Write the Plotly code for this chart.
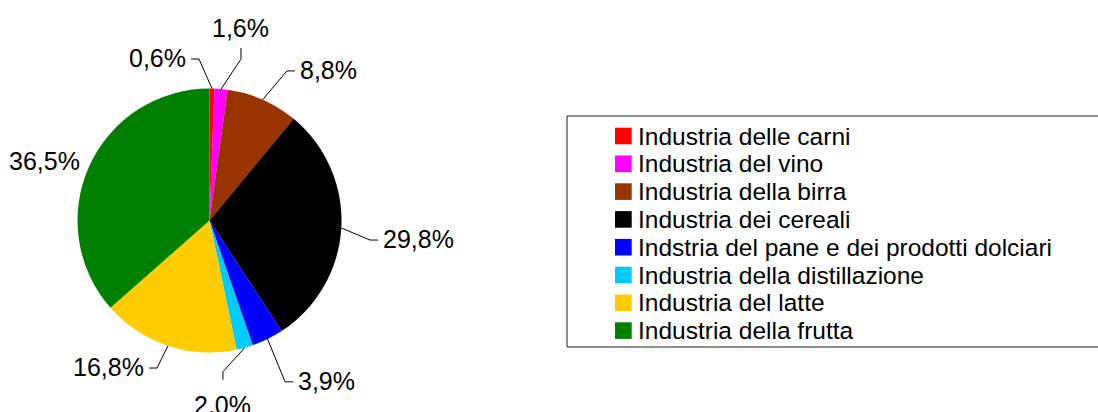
import numpy as np
import plotly.graph_objects as go

# ---------------------------------------------------------------------------
# Data
# ---------------------------------------------------------------------------
categories = [
    "Industria delle carni",
    "Industria del vino",
    "Industria della birra",
    "Industria dei cereali",
    "Indstria del pane e dei prodotti dolciari",
    "Industria della distillazione",
    "Industria del latte",
    "Industria della frutta",
]
shares = [0.6, 1.6, 8.8, 29.8, 3.9, 2.0, 16.8, 36.5]
colors = ["#ff0000", "#ff00ff", "#993300", "#000000",
          "#0000ff", "#00ccff", "#ffcc00", "#008000"]

# label leader-line style per slice: radius factor, angle nudge (deg), tail kind
leader_k = [1.226, 1.246, 1.276, 1.225, 1.35, 1.15, 1.186, 1.0]
leader_nudge = [-4.8, 6.0, 3.6, 3.7, 1.0, 10.4, 1.2, 0.0]
leader_tail = ["h", "v", "h", "h", "h", "v", "h", "none"]

W, H = 1098, 412
CX, CY, R = 209.5, 220.5, 132.0
FONT = "Liberation Sans, Arial, sans-serif"


def px(x):
    return x / W


def py(y):
    return 1 - y / H


def pt(angle_deg, r):
    a = np.radians(angle_deg)
    return CX + r * np.sin(a), CY - r * np.cos(a)


def fmt(v):
    return f"{v:.1f}%".replace(".", ",")


fig = go.Figure()
fig.add_trace(go.Pie(
    labels=categories,
    values=shares,
    sort=False,
    direction="clockwise",
    rotation=0,
    marker=dict(colors=colors, line=dict(width=0)),
    textinfo="none",
    showlegend=False,
    domain=dict(x=[px(CX - R), px(CX + R)], y=[py(CY + R), py(CY - R)]),
    hovertemplate="%{label}: %{value}%<extra></extra>",
))

# ---------------------------------------------------------------------------
# Outside labels with leader lines
# ---------------------------------------------------------------------------
total = sum(shares)
cum = 0.0
shapes = []
annotations = []
for v, k, nudge, tail in zip(shares, leader_k, leader_nudge, leader_tail):
    mid = (cum + v / 2) / total * 360
    cum += v
    x0, y0 = pt(mid, R)
    x1, y1 = pt(mid + nudge, R * k)
    text = fmt(v)
    if tail == "h":
        side = 1 if x1 > CX else -1
        x2, y2 = x1 + 8 * side, y1
        ann = dict(x=px(x2 + 3 * side), y=py(y2 - 1),
                   xanchor="left" if side > 0 else "right", yanchor="middle")
    elif tail == "v":
        side = 1 if y1 > CY else -1
        x2, y2 = x1, y1 + (8 if side > 0 else 11) * side
        ann = dict(x=px(x2), y=py(y2 + (9 if side > 0 else 4) * side),
                   xanchor="center", yanchor="top" if side > 0 else "bottom")
    else:
        x2, y2 = x1, y1
        ann = dict(x=px(x1 - 7), y=py(y1 - 5), xanchor="right", yanchor="middle")
    if tail != "none":
        shapes.append(dict(
            type="path", xref="paper", yref="paper",
            path=f"M {px(x0)},{py(y0)} L {px(x1)},{py(y1)} L {px(x2)},{py(y2)}",
            line=dict(color="#000000", width=1),
        ))
    annotations.append(dict(text=text, xref="paper", yref="paper", showarrow=False,
                            font=dict(family=FONT, size=25, color="#000000"), **ann))

# ---------------------------------------------------------------------------
# Legend box (runs off the right edge, as in the source)
# ---------------------------------------------------------------------------
shapes.append(dict(type="rect", xref="paper", yref="paper",
                   x0=px(567), x1=px(1115), y0=py(347), y1=py(116),
                   line=dict(color="#202020", width=1), fillcolor="rgba(0,0,0,0)"))
for i, (name, col) in enumerate(zip(categories, colors)):
    yc = 136 + 27.8 * i
    shapes.append(dict(type="rect", xref="paper", yref="paper",
                       x0=px(615), x1=px(631.7), y0=py(yc + 8.3), y1=py(yc - 8.3),
                       line=dict(width=0), fillcolor=col))
    annotations.append(dict(text=name, xref="paper", yref="paper", showarrow=False,
                            x=px(636), y=py(yc), xanchor="left", yanchor="middle",
                            font=dict(family=FONT, size=24.5, color="#000000")))

fig.update_layout(
    width=W, height=H,
    margin=dict(l=0, r=0, t=0, b=0),
    paper_bgcolor="white",
    plot_bgcolor="white",
    shapes=shapes,
    annotations=annotations,
)

fig.write_html("out.html", config={"displayModeBar": False},
               post_script="document.body.style.margin='0';")
